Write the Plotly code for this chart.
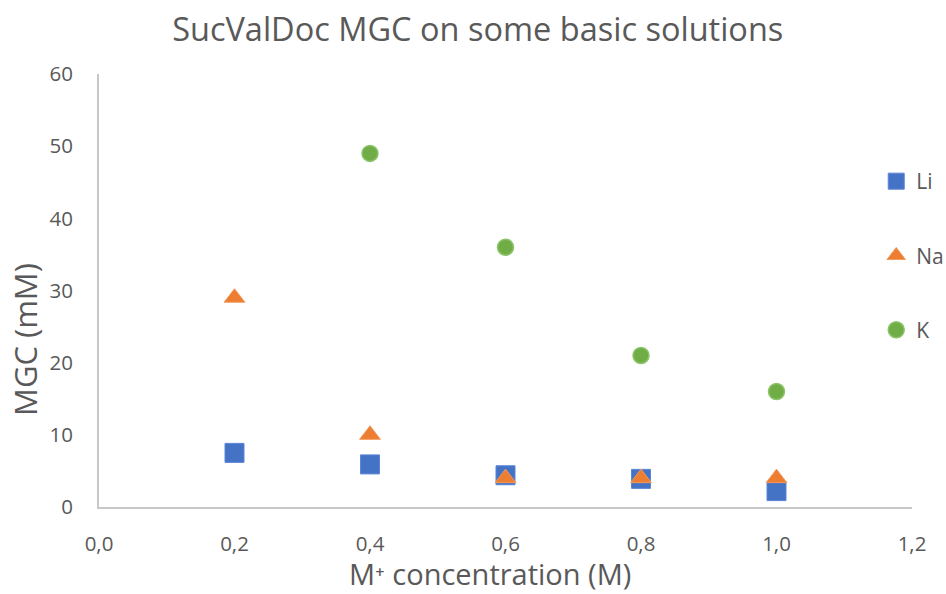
import plotly.graph_objects as go

x_vals = [0.2, 0.4, 0.6, 0.8, 1.0]
li = [7.5, 5.9, 4.4, 3.9, 2.2]
na = [29, 10, 4, 4, 4]
k_x = [0.4, 0.6, 0.8, 1.0]
k = [49, 36, 21, 16]

font = "Open Sans"
grey = "#595959"

fig = go.Figure()
fig.add_trace(go.Scatter(x=x_vals, y=li, mode="markers", name="Li", legendgroup="a",
                         marker=dict(symbol="square", size=19, color="#4472C4",
                                     line=dict(color="#5a86d6", width=1))))
fig.add_trace(go.Scatter(x=x_vals, y=na, mode="markers", name="Na", legendgroup="b",
                         marker=dict(symbol="triangle-up", size=18, color="#ED7D31",
                                     line=dict(color="#f39a5c", width=1))))
fig.add_trace(go.Scatter(x=k_x, y=k, mode="markers", name="K", legendgroup="c",
                         marker=dict(symbol="circle", size=16, color="#70AD47",
                                     line=dict(color="#8cc46a", width=1.5))))

fig.update_layout(
    width=946, height=594,
    paper_bgcolor="white", plot_bgcolor="white",
    separators=", ",
    margin=dict(l=99, r=34, t=74, b=87, autoexpand=False),
    title=dict(text="SucValDoc MGC on some basic solutions", x=0.505, xref="container",
               xanchor="center", y=0.95, yanchor="middle",
               font=dict(family=font, size=32.5, color=grey)),
    xaxis=dict(range=[0, 1.2], dtick=0.2, tickformat=".1f", showgrid=False,
               showline=True, linecolor="#c8c8c8", linewidth=2, zeroline=False,
               ticks="", ticklabelstandoff=17,
               tickfont=dict(family=font, size=20.5, color=grey)),
    yaxis=dict(range=[0, 60], dtick=10, showgrid=False,
               showline=True, linecolor="#c8c8c8", linewidth=2, zeroline=False,
               ticks="", ticklabelstandoff=20,
               tickfont=dict(family=font, size=20.5, color=grey)),
    annotations=[
        dict(text="M⁺ concentration (M)", xref="paper", yref="paper",
             x=(490 - 99) / 813, y=(507 - 594) / 433, xanchor="center", yanchor="bottom",
             showarrow=False, borderpad=0, font=dict(family=font, size=29, color=grey)),
        dict(text="MGC (mM)", xref="paper", yref="paper", textangle=-90,
             x=(25 - 99) / 813, y=(507 - 340) / 433, xanchor="center", yanchor="middle",
             showarrow=False, font=dict(family=font, size=31, color=grey)),
    ],
    legend=dict(x=0.956, y=0.799, xanchor="left", yanchor="top",
                font=dict(family=font, size=21, color=grey),
                tracegroupgap=44, itemwidth=30, bgcolor="rgba(0,0,0,0)"),
)

fig.write_html("out.html")
